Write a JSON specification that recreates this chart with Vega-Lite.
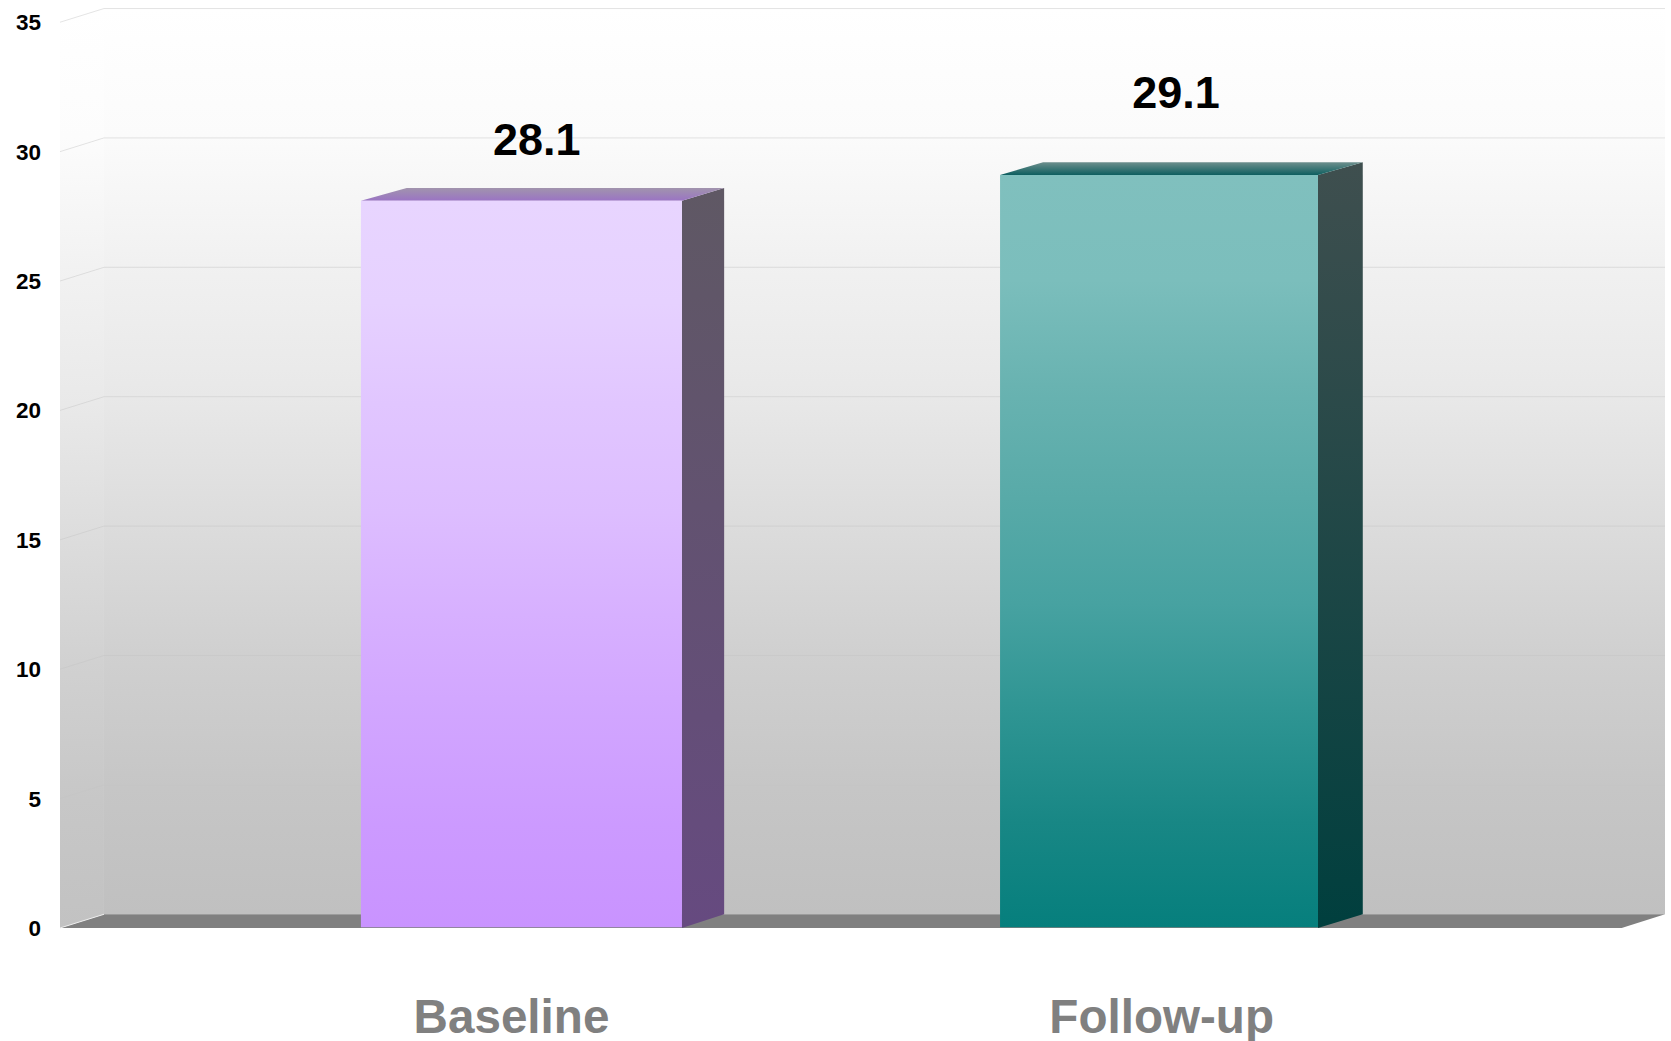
{
  "$schema": "https://vega.github.io/schema/vega-lite/v6.json",
  "width": 1605,
  "height": 920,
  "autosize": {"type": "none"},
  "padding": {"left": 60, "top": 8, "right": 6, "bottom": 113},
  "background": "#ffffff",
  "config": {"view": {"stroke": null}},
  "datasets": {
    "bars": [
      {"group": "Baseline", "value": 28.1},
      {"group": "Follow-up", "value": 29.1}
    ],
    "ticks": [
      {"tick": 0}, {"tick": 5}, {"tick": 10}, {"tick": 15},
      {"tick": 20}, {"tick": 25}, {"tick": 30}, {"tick": 35}
    ],
    "edges": [{"edge": 0}, {"edge": 1}]
  },
  "data": {"name": "bars"},
  "transform": [
    {"calculate": "datum.group === 'Baseline' ? 18.75 : 58.57", "as": "left"},
    {"calculate": "datum.group === 'Baseline' ? 38.75 : 78.38", "as": "right"},
    {"calculate": "[0, 1]", "as": "edge"},
    {"flatten": ["edge"]},
    {"calculate": "datum.right + datum.edge * (datum.group === 'Baseline' ? 2.63 : 2.79)", "as": "sideX"},
    {"calculate": "datum.edge * 0.53", "as": "sideLow"},
    {"calculate": "datum.value + datum.edge * 0.49", "as": "sideHigh"},
    {"calculate": "datum.left + datum.edge * (datum.group === 'Baseline' ? 2.85 : 2.68)", "as": "topLeft"}
  ],
  "layer": [
    {
      "description": "Back wall",
      "data": {"name": "edges"},
      "transform": [{"filter": "datum.edge === 0"}],
      "mark": {
        "type": "rect",
        "fill": {"gradient": "linear", "x1": 0, "y1": 0, "x2": 0, "y2": 1,
          "stops": [
            {"offset": 0, "color": "#ffffff"}, {"offset": 0.14, "color": "#fbfbfb"},
            {"offset": 0.28, "color": "#f1f1f1"}, {"offset": 0.43, "color": "#e8e8e8"},
            {"offset": 0.57, "color": "#dcdcdc"}, {"offset": 0.71, "color": "#d0d0d0"},
            {"offset": 0.86, "color": "#c6c6c6"}, {"offset": 1, "color": "#c0c0c0"}
          ]}
      },
      "encoding": {
        "x": {"datum": 2.74, "type": "quantitative", "scale": {"domain": [0, 100], "nice": false, "zero": false}, "axis": null},
        "x2": {"datum": 100},
        "y": {"datum": 0.53, "type": "quantitative", "scale": {"domain": [0, 35.55], "nice": false, "zero": false}, "axis": null},
        "y2": {"datum": 35.53}
      }
    },
    {
      "description": "Left wall",
      "data": {"name": "edges"},
      "transform": [
        {"calculate": "datum.edge * 2.74", "as": "wallX"},
        {"calculate": "datum.edge * 0.53", "as": "wallLow"},
        {"calculate": "35 + datum.edge * 0.53", "as": "wallHigh"}
      ],
      "mark": {
        "type": "area",
        "fill": {"gradient": "linear", "x1": 0, "y1": 0, "x2": 0, "y2": 1,
          "stops": [
            {"offset": 0, "color": "#ffffff"}, {"offset": 0.14, "color": "#fcfcfc"},
            {"offset": 0.28, "color": "#f2f2f2"}, {"offset": 0.43, "color": "#e9e9e9"},
            {"offset": 0.57, "color": "#dddddd"}, {"offset": 0.71, "color": "#d1d1d1"},
            {"offset": 0.86, "color": "#c7c7c7"}, {"offset": 1, "color": "#c2c2c2"}
          ]}
      },
      "encoding": {
        "x": {"field": "wallX", "type": "quantitative", "axis": null},
        "y": {"field": "wallLow", "type": "quantitative", "axis": null},
        "y2": {"field": "wallHigh"}
      }
    },
    {
      "description": "Floor",
      "data": {"name": "edges"},
      "transform": [
        {"calculate": "datum.edge * 0.53", "as": "floorY"},
        {"calculate": "datum.edge * 2.74", "as": "floorLeft"},
        {"calculate": "97.3 + datum.edge * 2.7", "as": "floorRight"}
      ],
      "mark": {"type": "area", "orient": "horizontal", "fill": "#808080"},
      "encoding": {
        "y": {"field": "floorY", "type": "quantitative", "axis": null},
        "x": {"field": "floorLeft", "type": "quantitative", "axis": null},
        "x2": {"field": "floorRight"}
      }
    },
    {
      "description": "Gridlines along the back wall",
      "data": {"name": "ticks"},
      "transform": [
        {"filter": "datum.tick > 0"},
        {"calculate": "datum.tick + 0.53", "as": "backTick"}
      ],
      "mark": {"type": "rule", "color": "#c4c4c4", "opacity": 0.45, "strokeWidth": 1},
      "encoding": {
        "x": {"datum": 2.74, "type": "quantitative", "axis": null},
        "x2": {"datum": 100},
        "y": {"field": "backTick", "type": "quantitative", "axis": null}
      }
    },
    {
      "description": "Gridlines across the left wall",
      "data": {"name": "ticks"},
      "transform": [
        {"filter": "datum.tick > 0"},
        {"calculate": "datum.tick + 0.53", "as": "backTick"}
      ],
      "mark": {"type": "rule", "color": "#c4c4c4", "opacity": 0.45, "strokeWidth": 1},
      "encoding": {
        "x": {"datum": 0, "type": "quantitative", "axis": null},
        "x2": {"datum": 2.74},
        "y": {"field": "tick", "type": "quantitative", "axis": null},
        "y2": {"field": "backTick"}
      }
    },
    {
      "description": "Pale edge where the left wall meets the floor",
      "data": {"name": "ticks"},
      "transform": [
        {"filter": "datum.tick === 0"},
        {"calculate": "datum.tick + 0.53", "as": "backTick"}
      ],
      "mark": {"type": "rule", "color": "#eeeeee", "strokeWidth": 1},
      "encoding": {
        "x": {"datum": 0, "type": "quantitative", "axis": null},
        "x2": {"datum": 2.74},
        "y": {"field": "tick", "type": "quantitative", "axis": null},
        "y2": {"field": "backTick"}
      }
    },
    {
      "description": "Value scale labels to the left of the walls",
      "data": {"name": "ticks"},
      "mark": {"type": "text", "font": "Liberation Sans", "fontWeight": "bold", "fontSize": 22.5,
        "color": "#000000", "align": "right", "baseline": "middle", "dx": -19, "dy": 1},
      "encoding": {
        "x": {"datum": 0, "type": "quantitative", "axis": null},
        "y": {"field": "tick", "type": "quantitative", "axis": null},
        "text": {"field": "tick", "type": "quantitative"}
      }
    },
    {
      "description": "Baseline side face",
      "transform": [{"filter": "datum.group === 'Baseline'"}],
      "mark": {"type": "area",
        "fill": {"gradient": "linear", "x1": 0, "y1": 0, "x2": 0, "y2": 1,
          "stops": [{"offset": 0, "color": "#5f5864"}, {"offset": 1, "color": "#664a80"}]}},
      "encoding": {
        "x": {"field": "sideX", "type": "quantitative", "axis": null},
        "y": {"field": "sideLow", "type": "quantitative", "axis": null},
        "y2": {"field": "sideHigh"}
      }
    },
    {
      "description": "Baseline top face",
      "transform": [{"filter": "datum.group === 'Baseline'"}],
      "mark": {"type": "area", "orient": "horizontal",
        "fill": {"gradient": "linear", "x1": 0, "y1": 0, "x2": 0, "y2": 1,
          "stops": [{"offset": 0, "color": "#a193ad"}, {"offset": 1, "color": "#9a74c4"}]}},
      "encoding": {
        "y": {"field": "sideHigh", "type": "quantitative", "axis": null},
        "x": {"field": "topLeft", "type": "quantitative", "axis": null},
        "x2": {"field": "sideX"}
      }
    },
    {
      "description": "Baseline front face",
      "transform": [{"filter": "datum.group === 'Baseline' && datum.edge === 0"}],
      "mark": {"type": "rect",
        "fill": {"gradient": "linear", "x1": 0, "y1": 0, "x2": 0, "y2": 1,
          "stops": [
            {"offset": 0, "color": "#e8d5ff"}, {"offset": 0.14, "color": "#e6d1ff"},
            {"offset": 0.28, "color": "#e1c6ff"}, {"offset": 0.43, "color": "#ddbdff"},
            {"offset": 0.57, "color": "#d7b0ff"}, {"offset": 0.71, "color": "#d1a5ff"},
            {"offset": 0.86, "color": "#cc9aff"}, {"offset": 1, "color": "#c993ff"}
          ]}},
      "encoding": {
        "x": {"field": "left", "type": "quantitative", "axis": null},
        "x2": {"field": "right"},
        "y": {"field": "value", "type": "quantitative", "axis": null},
        "y2": {"datum": 0.03}
      }
    },
    {
      "description": "Follow-up side face",
      "transform": [{"filter": "datum.group === 'Follow-up'"}],
      "mark": {"type": "area",
        "fill": {"gradient": "linear", "x1": 0, "y1": 0, "x2": 0, "y2": 1,
          "stops": [{"offset": 0, "color": "#3f4f4f"}, {"offset": 1, "color": "#003f3e"}]}},
      "encoding": {
        "x": {"field": "sideX", "type": "quantitative", "axis": null},
        "y": {"field": "sideLow", "type": "quantitative", "axis": null},
        "y2": {"field": "sideHigh"}
      }
    },
    {
      "description": "Follow-up top face",
      "transform": [{"filter": "datum.group === 'Follow-up'"}],
      "mark": {"type": "area", "orient": "horizontal",
        "fill": {"gradient": "linear", "x1": 0, "y1": 0, "x2": 0, "y2": 1,
          "stops": [{"offset": 0, "color": "#6d8f8d"}, {"offset": 1, "color": "#0e5f60"}]}},
      "encoding": {
        "y": {"field": "sideHigh", "type": "quantitative", "axis": null},
        "x": {"field": "topLeft", "type": "quantitative", "axis": null},
        "x2": {"field": "sideX"}
      }
    },
    {
      "description": "Follow-up front face",
      "transform": [{"filter": "datum.group === 'Follow-up' && datum.edge === 0"}],
      "mark": {"type": "rect",
        "fill": {"gradient": "linear", "x1": 0, "y1": 0, "x2": 0, "y2": 1,
          "stops": [
            {"offset": 0, "color": "#80c0be"}, {"offset": 0.14, "color": "#7bbebc"},
            {"offset": 0.28, "color": "#69b3b1"}, {"offset": 0.43, "color": "#58aaa8"},
            {"offset": 0.57, "color": "#47a2a1"}, {"offset": 0.71, "color": "#2f9593"},
            {"offset": 0.86, "color": "#188785"}, {"offset": 1, "color": "#067f7d"}
          ]}},
      "encoding": {
        "x": {"field": "left", "type": "quantitative", "axis": null},
        "x2": {"field": "right"},
        "y": {"field": "value", "type": "quantitative", "axis": null},
        "y2": {"datum": 0.03}
      }
    },
    {
      "description": "Value labels above the bars",
      "transform": [
        {"filter": "datum.edge === 0"},
        {"calculate": "datum.group === 'Baseline' ? 29.7 : 69.53", "as": "labelX"},
        {"calculate": "datum.value + (datum.group === 'Baseline' ? 1.77 : 2.58)", "as": "labelY"}
      ],
      "mark": {"type": "text", "font": "Liberation Sans", "fontWeight": "bold", "fontSize": 45,
        "color": "#000000", "align": "center", "baseline": "alphabetic"},
      "encoding": {
        "x": {"field": "labelX", "type": "quantitative", "axis": null},
        "y": {"field": "labelY", "type": "quantitative", "axis": null},
        "text": {"field": "value", "type": "quantitative", "format": ".1f"}
      }
    },
    {
      "description": "Category labels under the floor",
      "transform": [
        {"filter": "datum.edge === 0"},
        {"calculate": "datum.group === 'Baseline' ? 28.13 : 68.64", "as": "categoryX"}
      ],
      "mark": {"type": "text", "font": "Liberation Sans", "fontWeight": "bold", "fontSize": 47.6,
        "color": "#808080", "align": "center", "baseline": "alphabetic", "dy": 105},
      "encoding": {
        "x": {"field": "categoryX", "type": "quantitative", "axis": null},
        "y": {"datum": 0, "type": "quantitative", "axis": null},
        "text": {"field": "group", "type": "nominal"}
      }
    }
  ]
}
